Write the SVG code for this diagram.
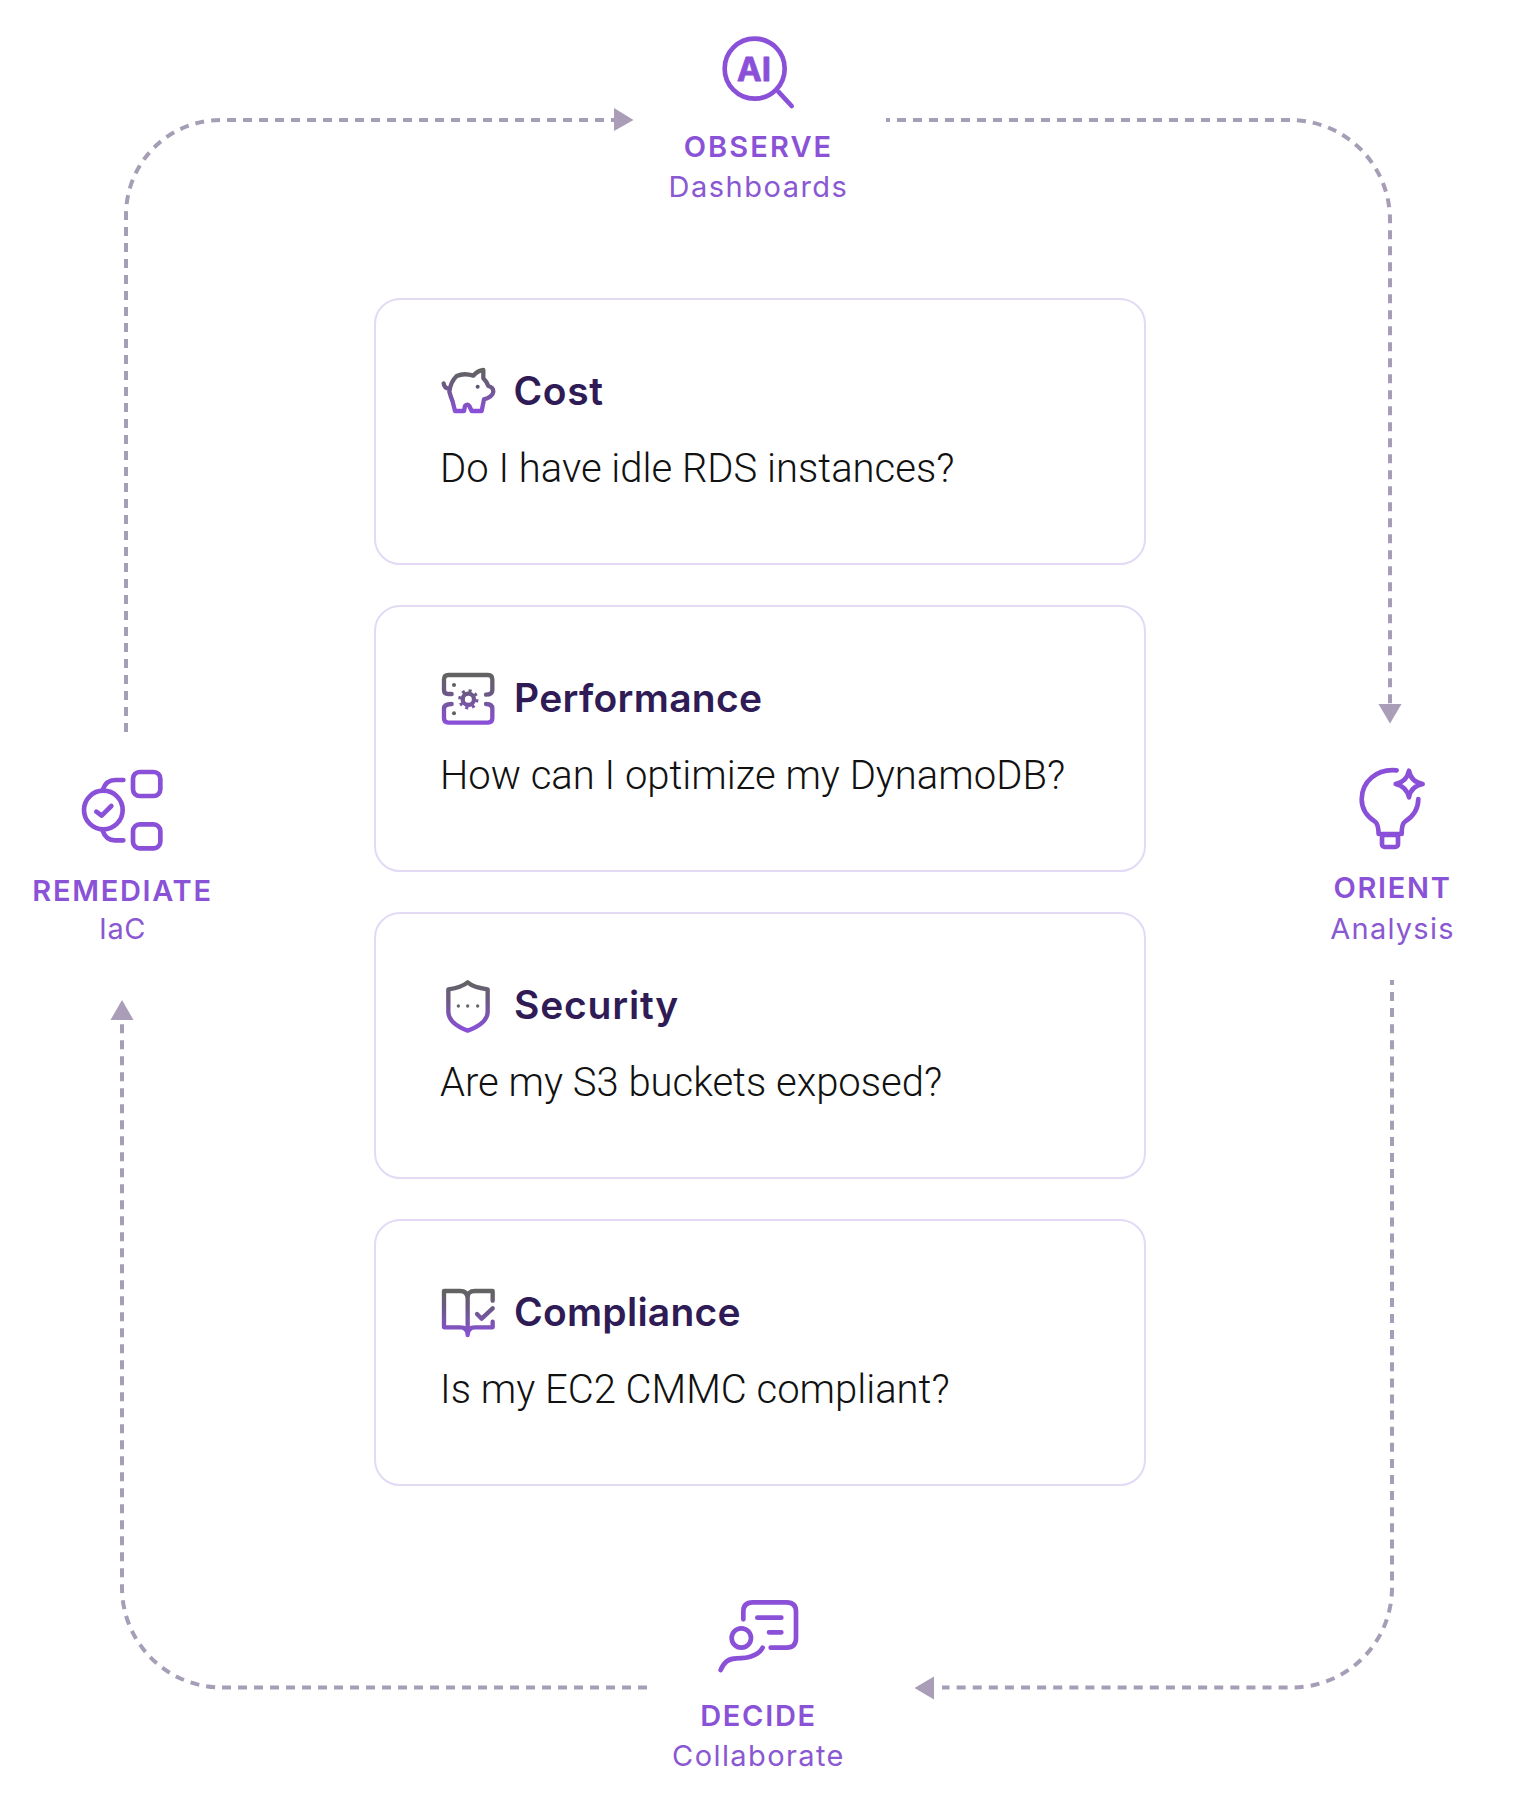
<svg xmlns="http://www.w3.org/2000/svg" width="1520" height="1804" viewBox="0 0 1520 1804">
<style>
.card{fill:#fff;stroke:#e3daf6;stroke-width:2}
.h{font:600 39px Inter,"Liberation Sans",sans-serif;fill:#2f1b55}
.b{font:300 40px Roboto,"Liberation Sans",sans-serif;fill:#111}
.t{font:600 29px Inter,"Liberation Sans",sans-serif;fill:#8a52d6;text-anchor:middle}
.s{font:400 29px Inter,"Liberation Sans",sans-serif;fill:#8a58d2;text-anchor:middle}
.dash{fill:none;stroke:#a69eb6;stroke-width:4;stroke-dasharray:9 7}
.arr{fill:#a99db7}
.ic{fill:none;stroke:#8a50d8;stroke-width:14;stroke-linecap:round;stroke-linejoin:round}
.g{fill:none;stroke-width:13;stroke-linecap:round;stroke-linejoin:round}
</style>
<defs>
<linearGradient id="g1" gradientUnits="userSpaceOnUse" x1="0" x2="0" y1="270" y2="395"><stop offset="0" stop-color="#636363"/><stop offset=".35" stop-color="#6a5a80"/><stop offset="1" stop-color="#8a50d8"/></linearGradient>
<linearGradient id="g2" gradientUnits="userSpaceOnUse" x1="0" x2="0" y1="255" y2="400"><stop offset="0" stop-color="#636363"/><stop offset=".35" stop-color="#6a5a80"/><stop offset="1" stop-color="#8a50d8"/></linearGradient>
<linearGradient id="g3" gradientUnits="userSpaceOnUse" x1="0" x2="0" y1="245" y2="392"><stop offset="0" stop-color="#636363"/><stop offset=".35" stop-color="#6a5a80"/><stop offset="1" stop-color="#8a50d8"/></linearGradient>
<linearGradient id="g4" gradientUnits="userSpaceOnUse" x1="0" x2="0" y1="243" y2="378"><stop offset="0" stop-color="#636363"/><stop offset=".35" stop-color="#6a5a80"/><stop offset="1" stop-color="#8a50d8"/></linearGradient>
</defs>
<rect width="1520" height="1804" fill="#fff"/>
<g id="connectors">
<path class="dash" d="M126 732V215A95 95 0 0 1 221 120H614"/>
<path class="arr" d="M614 108L633.500 120L614 131Z"/>
<path class="dash" stroke-dashoffset="5" d="M886 120H1290A100 100 0 0 1 1390 220V704"/>
<path class="arr" d="M1378.500 704H1401.500L1390 723.500Z"/>
<path class="dash" style="stroke-dasharray:9 7.100" stroke-dashoffset="4.100" d="M1392 980V1587A100 100 0 0 1 1292 1687.500H942"/>
<path class="arr" d="M934 1676.500V1699.500L914.500 1688Z"/>
<path class="dash" d="M647 1687.500H222A100 100 0 0 1 122 1587.500V1020"/>
<path class="arr" d="M110.500 1020H133.500L122 1000Z"/>
</g>
<g id="observe">
<g transform="translate(600,0) scale(.33333)"><circle class="ic" cx="464" cy="206" r="90"/><path class="ic" d="M535 275L575 318"/></g>
<text x="754" y="81" text-anchor="middle" style="font:700 33px Inter,'Liberation Sans',sans-serif;fill:#8a50d8;stroke:#8a50d8;stroke-width:.8;stroke-linejoin:round">AI</text>
<text class="t" x="758.500" y="157" letter-spacing="2.100">OBSERVE</text><text class="s" x="758.500" y="197" letter-spacing="1.500">Dashboards</text>
</g>
<g id="orient">
<g transform="translate(1280,680) scale(.33333)">
<path class="ic" d="M350 271C290 265 245 305 245 358C245 390 265 412 285 425Q295 432 296 462H365Q365 432 375 425C395 412 415 390 415 357"/>
<rect class="ic" x="306" y="465" width="48" height="36" rx="8"/>
<path class="ic" d="M387 272Q392 305 428 312Q392 320 387 352Q380 320 347 312Q380 305 387 272Z"/></g>
<text class="t" x="1392.500" y="898" letter-spacing="1.700">ORIENT</text><text class="s" x="1392.500" y="938.500" letter-spacing="1.250">Analysis</text>
</g>
<g id="decide">
<g transform="translate(620,1570) scale(.33333)">
<path class="ic" d="M370 148V125Q370 97 398 97H500Q528 97 528 125V205Q528 233 500 233H452"/>
<path class="ic" d="M412 143H484M447 187H484"/>
<circle class="ic" cx="364" cy="204" r="29"/>
<path class="ic" d="M302 300Q315 265 350 265Q410 265 428 233"/></g>
<text class="t" x="758.500" y="1726" letter-spacing="1.700">DECIDE</text><text class="s" x="758.500" y="1766" letter-spacing="1.400">Collaborate</text>
</g>
<g id="remediate">
<g transform="translate(0,700) scale(.33333)">
<circle class="ic" cx="310" cy="330" r="58"/>
<path class="ic" d="M289 335L305 347L334 318"/>
<path class="ic" d="M370 240H345Q318 240 308 270M370 421H345Q318 421 308 392"/>
<rect class="ic" x="399" y="216" width="82" height="72" rx="20"/>
<rect class="ic" x="399" y="373" width="82" height="72" rx="20"/></g>
<text class="t" x="122.500" y="900.500" letter-spacing="1.700">REMEDIATE</text><text class="s" x="122.500" y="938.500" letter-spacing=".5">IaC</text>
</g>
<g id="cost">
<rect class="card" x="375" y="299" width="770" height="265" rx="25"/>
<g transform="translate(360,280) scale(.33333)" stroke="url(#g1)">
<path class="g" d="M251 310Q252 324 270 328M290 288Q272 305 268 335Q272 350 278 365L285 393H312L315 378Q322 370 328 378L335 393H365L372 358Q398 350 400 335Q400 322 385 318Q380 305 370 295V270Q352 272 340 287Q312 278 290 288Z"/>
<circle cx="353" cy="320" r="6" fill="#5f5470" stroke="none"/></g>
<text class="h" x="513.500" y="405" letter-spacing=".6">Cost</text>
<text class="b" x="440" y="481.500">Do I have idle RDS instances?</text>
</g>
<g id="performance">
<rect class="card" x="375" y="606" width="770" height="265" rx="25"/>
<g transform="translate(360,590) scale(.33333)" stroke="url(#g2)">
<path class="g" d="M275 312H265Q252 312 252 300V268Q252 255 265 255H384Q397 255 397 268V300Q397 314 378 314M275 342Q252 342 252 356V385Q252 398 265 398H384Q397 398 397 385V356Q397 342 378 342"/>
<circle class="g" cx="325" cy="328" r="17" stroke-width="11"/>
<circle cx="325" cy="328" r="26" fill="none" stroke-width="9" stroke-dasharray="9 11.400"/>
<circle cx="282" cy="285" r="6" fill="#5f5f66" stroke="none"/><circle cx="282" cy="370" r="6" fill="#5f5f66" stroke="none"/></g>
<text class="h" x="514" y="712" letter-spacing=".3">Performance</text>
<text class="b" x="440" y="788.500">How can I optimize my DynamoDB?</text>
</g>
<g id="security">
<rect class="card" x="375" y="913" width="770" height="265" rx="25"/>
<g transform="translate(360,900) scale(.33333)" stroke="url(#g3)">
<path class="g" d="M323 247Q340 262 383 268V335Q383 370 323 392Q265 370 265 335V268Q305 262 323 247Z"/>
<circle cx="295" cy="318" r="5" fill="#666" stroke="none"/><circle cx="323" cy="318" r="5" fill="#666" stroke="none"/><circle cx="353" cy="318" r="5" fill="#666" stroke="none"/></g>
<text class="h" x="514" y="1019" letter-spacing=".8">Security</text>
<text class="b" x="440" y="1095.500">Are my S3 buckets exposed?</text>
</g>
<g id="compliance">
<rect class="card" x="375" y="1220" width="770" height="265" rx="25"/>
<g transform="translate(360,1210) scale(.33333)" stroke="url(#g4)">
<path class="g" d="M323 372V265Q322 243 300 243H252V352H300Q323 352 323 375Q323 352 345 352H398V335M323 265Q322 243 345 243H398V272"/>
<path class="g" d="M351 312L365 326L398 295"/></g>
<text class="h" x="514" y="1326" letter-spacing=".25">Compliance</text>
<text class="b" x="440" y="1402.500">Is my EC2 CMMC compliant?</text>
</g>
</svg>
